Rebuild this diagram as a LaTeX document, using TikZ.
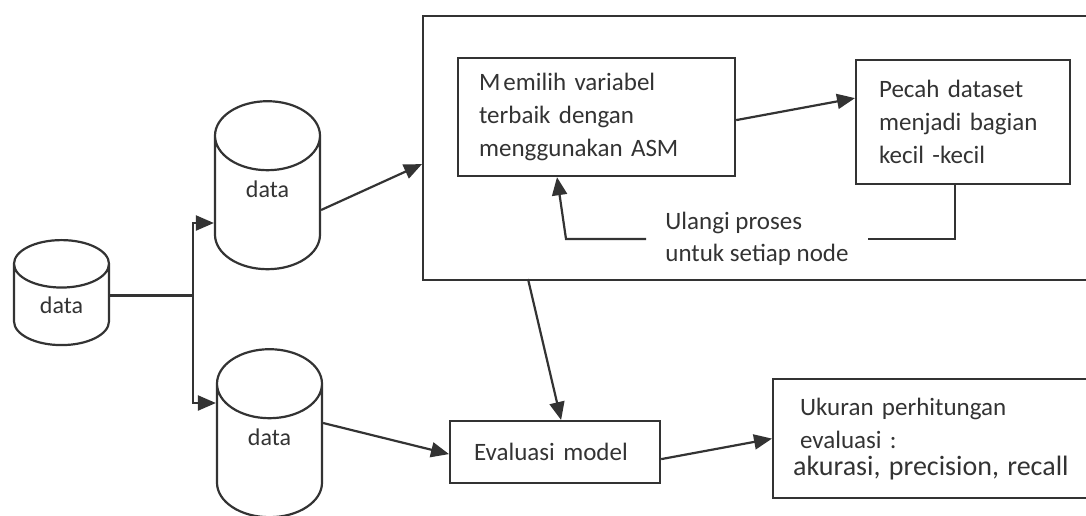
\documentclass[tikz,border=0pt]{standalone}
\usepackage{fontspec}
\setmainfont{Carlito}
\usetikzlibrary{shapes.geometric}
\usetikzlibrary{arrows.meta}
\newcommand{\dblabel}[1]{\smash{\raisebox{6pt}{#1}}}
\tikzset{
  line/.style={line width=2.2pt, draw=black!80},
  arr/.style={line, -{Triangle[length=18pt,width=15pt]}},
  db/.style={line, cylinder, shape border rotate=90, aspect=1.6, minimum width=105pt, minimum height=168pt, inner sep=0pt, text=black!80, font=\fontsize{24}{28}\selectfont},
  stepbox/.style={line, rectangle, anchor=north west, inner ysep=0pt, align=left, text=black!80, font=\fontsize{25}{33}\selectfont},
}
\begin{document}
\begin{tikzpicture}[x=1pt,y=-1pt]
    \useasboundingbox (0,0) rectangle (1086,515);
    % cylinders
    \node[db, minimum width=95pt, minimum height=105pt, aspect=1.1] (src) at (61.5,305) {data};
    \node[db] (train) at (267.5,203) {\dblabel{data}};
    \node[db] (test) at (269.5,451) {\dblabel{data}};
    % frame of the tree
    \node[line, rectangle, anchor=north west, minimum width=700pt, minimum height=264pt] (tree) at (422,15) {};
    % steps in the frame
    \node[stepbox, minimum width=277pt, minimum height=118pt, inner xsep=21pt, text width=235pt] (pilih) at (457,57) {M\hspace{3pt}emilih variabel\\terbaik dengan\\menggunakan ASM};
    \node[stepbox, minimum width=214pt, minimum height=124pt, inner xsep=23pt, text width=168pt] (pecah) at (855,59) {Pecah dataset\\menjadi bagian\\kecil -kecil};
    \node[align=left, inner xsep=19pt, inner ysep=0pt, text=black!80, font=\fontsize{25}{32}\selectfont] (ulang) at (757,239) {Ulangi proses\\untuk setiap node};
    % steps below
    \node[stepbox, minimum width=210pt, minimum height=62pt, inner xsep=24pt, text width=162pt] (eval) at (449,420) {Evaluasi model};
    \node[stepbox, minimum width=340pt, minimum height=119pt, inner xsep=16pt, text width=300pt] (ukur) at (772,378) {\hspace*{7pt}Ukuran perhitungan\\\hspace*{7pt}evaluasi :\\[-6pt]{\fontsize{28}{30}\selectfont akurasi, precision, recall}};
    \coordinate (fork) at (193,295.5);
    \coordinate (bend) at (566,239);
    \coordinate (exit) at (528,279);
    % connectors
    \draw[line] (src.east |- fork) -- (fork);
    \draw[arr] (fork) |- ([yshift=-20pt]train.west);
    \draw[arr] (fork) |- ([yshift=48pt]test.west);
    \draw[arr] ([yshift=-7pt]train.east) -- ([yshift=-16pt]tree.west);
    \draw[arr] ([yshift=-3pt]pilih.east) -- ([yshift=24pt]pecah.east -| pecah.west);
    \draw[line] ([xshift=-8pt]pecah.south) |- (ulang.east);
    \draw[arr] (ulang.west) -- (bend) -- ([xshift=100pt]pilih.south west);
    \draw[arr] (exit) -- ([xshift=6pt]eval.north);
    \draw[arr] ([yshift=28pt]test.east) -- ([yshift=-2pt]eval.west);
    \draw[arr] ([yshift=-7pt]eval.east) -- (ukur.west);
\end{tikzpicture}
\end{document}
